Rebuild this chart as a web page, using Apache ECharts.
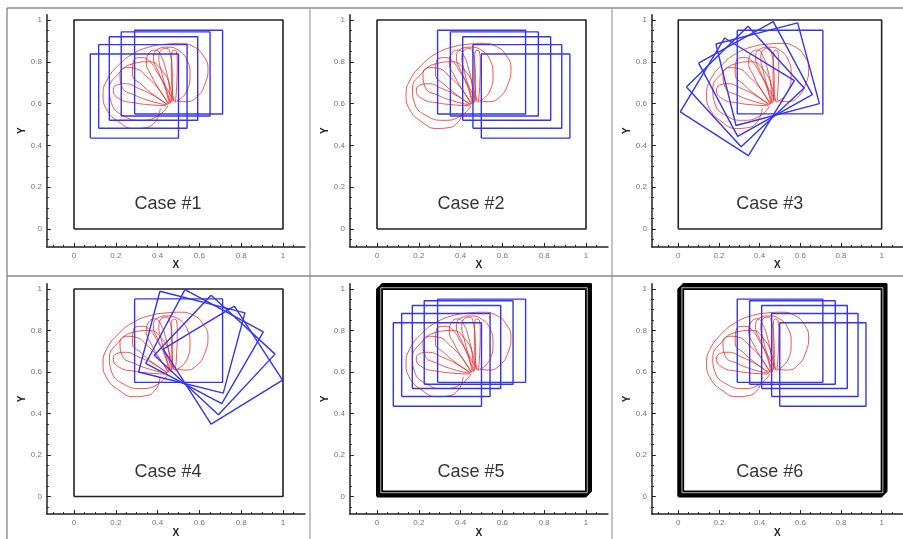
<!DOCTYPE html>
<html>
<head>
<meta charset="utf-8">
<script src="https://cdn.jsdelivr.net/npm/echarts@6/dist/echarts.min.js"></script>
<style>
html,body{margin:0;padding:0;background:#fff;}
#main{width:903px;height:539px;}
</style>
</head>
<body>
<div id="main"></div>
<script>
(function () {
    // panel titles
    const caseNames = ['Case #1', 'Case #2', 'Case #3', 'Case #4', 'Case #5', 'Case #6'];
    const casePos = [0.45, 0.12];

    // ticks
    const majorTicks = [0, 0.2, 0.4, 0.6, 0.8, 1];
    const minorTicksX = [-0.1, -0.05, 0.05, 0.1, 0.15, 0.25, 0.3, 0.35, 0.45, 0.5, 0.55, 0.65, 0.7, 0.75, 0.85, 0.9, 0.95, 1.05];
    const minorTicksY = [-0.05, 0.05, 0.1, 0.15, 0.25, 0.3, 0.35, 0.45, 0.5, 0.55, 0.65, 0.7, 0.75, 0.85, 0.9, 0.95];

    // blue rectangles [left, bottom, right, top]
    const rectsCase1 = [[0.078, 0.435, 0.500, 0.837], [0.118, 0.482, 0.541, 0.882], [0.169, 0.520, 0.592, 0.920], [0.226, 0.541, 0.651, 0.943], [0.290, 0.550, 0.711, 0.951]];
    const rectsCase2 = [[0.290, 0.550, 0.711, 0.951], [0.351, 0.541, 0.772, 0.943], [0.410, 0.520, 0.831, 0.920], [0.459, 0.482, 0.884, 0.882], [0.499, 0.435, 0.923, 0.837]];

    // rotated squares: corners TL, TR, BR, BL
    const squaresCase3 = [
        [[0.290, 0.951], [0.711, 0.951], [0.711, 0.551], [0.290, 0.551]],
        [[0.185, 0.885], [0.587, 0.986], [0.694, 0.600], [0.284, 0.495]],
        [[0.100, 0.794], [0.467, 0.992], [0.659, 0.643], [0.292, 0.443]],
        [[0.040, 0.679], [0.343, 0.970], [0.619, 0.675], [0.309, 0.394]],
        [[0.010, 0.560], [0.228, 0.914], [0.571, 0.710], [0.345, 0.351]]
    ];
    const squaresCase4 = [
        [[0.290, 0.952], [0.711, 0.952], [0.711, 0.550], [0.290, 0.550]],
        [[0.411, 0.989], [0.818, 0.885], [0.714, 0.498], [0.309, 0.600]],
        [[0.531, 0.997], [0.906, 0.793], [0.707, 0.447], [0.343, 0.641]],
        [[0.656, 0.970], [0.962, 0.686], [0.691, 0.394], [0.384, 0.681]],
        [[0.767, 0.917], [0.998, 0.561], [0.656, 0.349], [0.427, 0.710]]
    ];

    // red trajectories
    const loopOuter = [[0.493, 0.614], [0.533, 0.609], [0.589, 0.633], [0.628, 0.697], [0.641, 0.769], [0.617, 0.832], [0.573, 0.872], [0.509, 0.888], [0.445, 0.885], [0.365, 0.872], [0.285, 0.840], [0.214, 0.785], [0.158, 0.713], [0.139, 0.641], [0.158, 0.569], [0.214, 0.513], [0.285, 0.481], [0.349, 0.486], [0.389, 0.513], [0.405, 0.545], [0.413, 0.577]];
    const loop1 = [[0.485, 0.605], [0.492, 0.700], [0.494, 0.800], [0.490, 0.848], [0.478, 0.855], [0.468, 0.842], [0.466, 0.760], [0.468, 0.680], [0.480, 0.610]];
    const loop2 = [[0.465, 0.605], [0.472, 0.684], [0.470, 0.761], [0.462, 0.828], [0.445, 0.864], [0.422, 0.860], [0.406, 0.818], [0.418, 0.755], [0.438, 0.680], [0.462, 0.603]];
    const loop3 = [[0.460, 0.600], [0.456, 0.681], [0.440, 0.760], [0.418, 0.824], [0.390, 0.856], [0.362, 0.846], [0.346, 0.796], [0.370, 0.734], [0.410, 0.664], [0.455, 0.598]];
    const loop4 = [[0.455, 0.600], [0.434, 0.680], [0.398, 0.750], [0.362, 0.803], [0.328, 0.820], [0.287, 0.810], [0.280, 0.740], [0.324, 0.690], [0.384, 0.640], [0.450, 0.595]];
    const loop5 = [[0.450, 0.598], [0.405, 0.670], [0.350, 0.727], [0.297, 0.767], [0.250, 0.772], [0.220, 0.744], [0.232, 0.675], [0.292, 0.640], [0.366, 0.612], [0.445, 0.593]];
    const loop6 = [[0.445, 0.595], [0.378, 0.640], [0.308, 0.673], [0.247, 0.695], [0.203, 0.688], [0.188, 0.662], [0.222, 0.620], [0.287, 0.604], [0.365, 0.594], [0.440, 0.590]];
    const loop7 = [[0.450, 0.590], [0.400, 0.540], [0.320, 0.520], [0.240, 0.540], [0.180, 0.600], [0.170, 0.670], [0.210, 0.740], [0.280, 0.790], [0.360, 0.800], [0.420, 0.760], [0.460, 0.680], [0.470, 0.610]];
    const loop8 = [[0.490, 0.610], [0.540, 0.660], [0.555, 0.740], [0.540, 0.810], [0.500, 0.855], [0.450, 0.870], [0.400, 0.860], [0.380, 0.820], [0.400, 0.760], [0.440, 0.680], [0.480, 0.610]];
    const redLoops = [loopOuter, loop7, loop8, loop1, loop2, loop3, loop4, loop5, loop6];

    // enclosing box
    const boxCorners = [[0, 0], [1, 0], [1, 1], [0, 1]];
    const frameSteps = [0, 0.006, 0.012, 0.018, 0.024];
    const frameGlint = [0.018, 1.006];

    const ox = [74, 377, 679];
    const oy = [229, 498];
    const unit = 209;
    const xMin = -0.13, xMax = 1.105, yMin = -0.085, yMax = 1.025;

    function rectPoly(r) {
        return [[r[0], r[1]], [r[2], r[1]], [r[2], r[3]], [r[0], r[3]], [r[0], r[1]]];
    }
    function closed(p) {
        return p.concat([p[0]]);
    }

    const panels = [
        { squares: rectsCase1.map(rectPoly), thick: false },
        { squares: rectsCase2.map(rectPoly), thick: false },
        { squares: squaresCase3.map(closed), thick: false },
        { squares: squaresCase4.map(closed), thick: false },
        { squares: rectsCase1.map(rectPoly), thick: true },
        { squares: rectsCase2.map(rectPoly), thick: true }
    ];

    const grids = [], xAxes = [], yAxes = [], series = [];
    const axisColor = '#222';
    panels.forEach(function (p, i) {
        const col = i % 3, row = Math.floor(i / 3);
        grids.push({
            left: ox[col] + xMin * unit,
            top: oy[row] - yMax * unit,
            width: (xMax - xMin) * unit,
            height: (yMax - yMin) * unit
        });
        xAxes.push({
            gridIndex: i, type: 'value', min: xMin, max: xMax, position: 'bottom',
            axisLine: { onZero: false, lineStyle: { color: axisColor, width: 1.5 } },
            axisTick: { inside: true, length: 4, customValues: majorTicks, lineStyle: { color: axisColor, width: 1 } },
            axisLabel: { customValues: majorTicks, fontSize: 8, color: '#777', margin: 5, fontFamily: 'Liberation Sans' },
            splitLine: { show: false },
            name: 'X', nameLocation: 'middle', nameGap: 8,
            nameTextStyle: { fontWeight: 'bold', fontSize: 10, color: '#222', fontFamily: 'Liberation Sans' }
        });
        xAxes.push({
            gridIndex: i, type: 'value', min: xMin, max: xMax, position: 'bottom',
            axisLine: { show: false, onZero: false },
            axisTick: { inside: true, length: 2, customValues: minorTicksX, lineStyle: { color: axisColor, width: 1 } },
            axisLabel: { show: false },
            splitLine: { show: false }
        });
        yAxes.push({
            gridIndex: i, type: 'value', min: yMin, max: yMax, position: 'left',
            axisLine: { onZero: false, lineStyle: { color: axisColor, width: 1.5 } },
            axisTick: { inside: true, length: 4, customValues: majorTicks, lineStyle: { color: axisColor, width: 1 } },
            axisLabel: { customValues: majorTicks, fontSize: 8, color: '#777', margin: 5, fontFamily: 'Liberation Sans' },
            splitLine: { show: false },
            name: 'Y', nameLocation: 'middle', nameRotate: 90, nameGap: 19,
            nameTextStyle: { fontWeight: 'bold', fontSize: 10, color: '#222', fontFamily: 'Liberation Sans' }
        });
        yAxes.push({
            gridIndex: i, type: 'value', min: yMin, max: yMax, position: 'left',
            axisLine: { show: false, onZero: false },
            axisTick: { inside: true, length: 2, customValues: minorTicksY, lineStyle: { color: axisColor, width: 1 } },
            axisLabel: { show: false },
            splitLine: { show: false }
        });

        const ax = 2 * i;
        function line(data, color, width, opacity, smooth) {
            series.push({
                type: 'line', xAxisIndex: ax, yAxisIndex: ax, data: data,
                symbol: 'none', showSymbol: false, silent: true, smooth: smooth || false,
                lineStyle: { color: color, width: width, opacity: opacity }
            });
        }

        // box
        if (p.thick) {
            frameSteps.forEach(function (s) {
                line(closed(boxCorners.map(function (c) { return [c[0] + s, c[1] + s]; })), '#000', 2, 1);
            });
            const a = frameGlint[0], b = frameGlint[1];
            line([[a, a], [b, a], [b, b], [a, b], [a, a]], '#fff', 0.7, 1);
        } else {
            line(closed(boxCorners), axisColor, 1.6, 1);
        }
        // red trajectories
        redLoops.forEach(function (l) { line(l, '#e52020', 0.9, 0.85, 0.5); });
        // blue bodies
        p.squares.forEach(function (s) { line(s, '#3535f0', 1.4, 1); });
        // label
        series.push({
            type: 'scatter', xAxisIndex: ax, yAxisIndex: ax, data: [casePos],
            symbolSize: 1, itemStyle: { color: 'rgba(0,0,0,0)' }, silent: true,
            label: {
                show: true, position: 'inside', formatter: caseNames[i],
                fontSize: 18, color: '#000', fontFamily: 'Liberation Sans'
            }
        });
    });

    const sep = [
        { type: 'line', shape: { x1: 7, y1: 8, x2: 903, y2: 8 }, style: { stroke: '#555', lineWidth: 1.2 } },
        { type: 'line', shape: { x1: 7, y1: 8, x2: 7, y2: 539 }, style: { stroke: '#777', lineWidth: 1.2 } },
        { type: 'line', shape: { x1: 310, y1: 8, x2: 310, y2: 539 }, style: { stroke: '#b0b0b0', lineWidth: 1.5 } },
        { type: 'line', shape: { x1: 612, y1: 8, x2: 612, y2: 539 }, style: { stroke: '#b0b0b0', lineWidth: 1.5 } },
        { type: 'line', shape: { x1: 7, y1: 276, x2: 903, y2: 276 }, style: { stroke: '#888', lineWidth: 1.5 } }
    ];

    const myChart = echarts.init(document.getElementById('main'));
    const option = {
        backgroundColor: '#fff',
        animation: false,
        grid: grids,
        xAxis: xAxes,
        yAxis: yAxes,
        graphic: sep,
        series: series
    };
    myChart.setOption(option);
}());
</script>
</body>
</html>
